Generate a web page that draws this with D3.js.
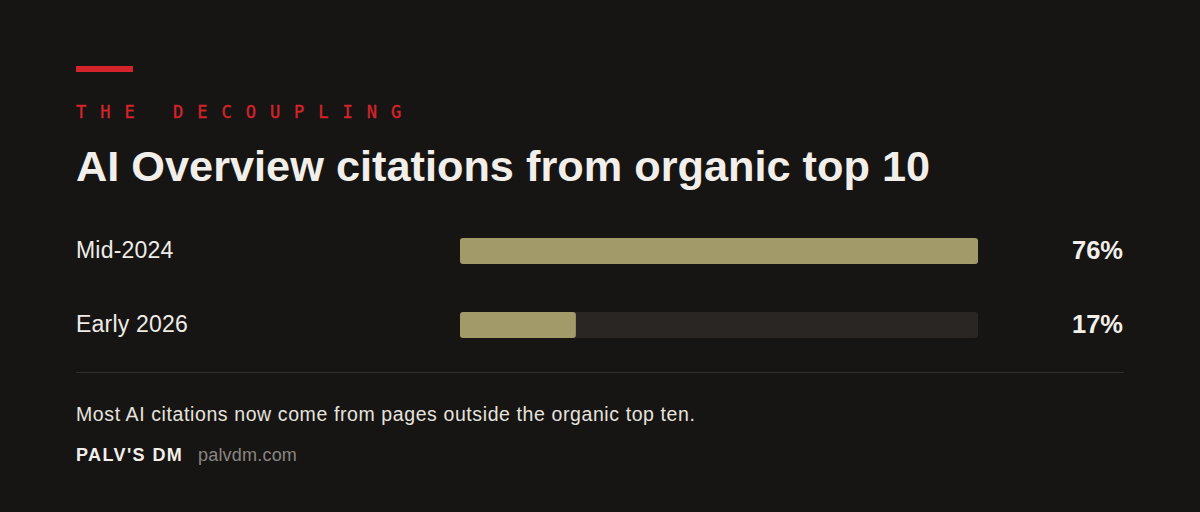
<!DOCTYPE html>
<html>
<head>
<meta charset="utf-8">
<script src="https://cdn.jsdelivr.net/npm/d3@7"></script>
<style>
  html, body { margin: 0; padding: 0; background: #171514; }
  svg { display: block; }
</style>
</head>
<body>
<div id="chart"></div>
<script>
// data
const periods = ["Mid-2024", "Early 2026"];
const shares = [76, 17];
const eyebrow = "THE DECOUPLING";
const title = "AI Overview citations from organic top 10";
const note = "Most AI citations now come from pages outside the organic top ten.";
const brand = "PALV'S DM";
const site = "palvdm.com";

const width = 1200, height = 512;
const sans = "'Liberation Sans', Arial, sans-serif";
const mono = "'DejaVu Sans Mono', monospace";

const svg = d3.select("#chart").append("svg")
    .attr("width", width)
    .attr("height", height);

svg.append("rect")
    .attr("width", width).attr("height", height)
    .attr("fill", "#171514");

// red accent
svg.append("rect")
    .attr("x", 76).attr("y", 66)
    .attr("width", 57).attr("height", 6)
    .attr("fill", "#d3242b");

svg.append("text")
    .attr("x", 76).attr("y", 118)
    .attr("font-family", mono)
    .attr("font-size", 17)
    .attr("letter-spacing", 14.0)
    .attr("stroke", "#d3242b")
    .attr("stroke-width", 0.4)
    .attr("fill", "#d3242b")
    .text(eyebrow);

svg.append("text")
    .attr("x", 76).attr("y", 181)
    .attr("font-family", sans)
    .attr("font-weight", 700)
    .attr("font-size", 43.3)
    .attr("fill", "#f2efea")
    .text(title);

// bars
const x = d3.scaleLinear()
    .domain([0, d3.max(shares)])
    .range([460, 978]);

const y = d3.scaleBand()
    .domain(periods)
    .range([214, 362])
    .paddingInner(0.65)
    .paddingOuter(0.325);

const rows = svg.selectAll("g.row")
    .data(periods)
    .enter()
    .append("g")
    .attr("class", "row");

rows.append("rect")
    .attr("x", x(0))
    .attr("y", d => y(d))
    .attr("width", x.range()[1] - x(0))
    .attr("height", y.bandwidth())
    .attr("rx", 3)
    .attr("fill", "#292624");

rows.append("rect")
    .attr("x", x(0))
    .attr("y", d => y(d))
    .attr("width", (d, i) => x(shares[i]) - x(0))
    .attr("height", y.bandwidth())
    .attr("rx", 3)
    .attr("fill", "#a39a69");

rows.append("text")
    .attr("x", 76)
    .attr("y", d => y(d) + y.bandwidth() / 2 + 7)
    .attr("font-family", sans)
    .attr("font-size", 23)
    .attr("letter-spacing", 0.2)
    .attr("fill", "#eeebe6")
    .text(d => d);

rows.append("text")
    .attr("x", 1123)
    .attr("y", d => y(d) + y.bandwidth() / 2 + 8)
    .attr("text-anchor", "end")
    .attr("font-family", sans)
    .attr("font-weight", 700)
    .attr("font-size", 25.5)
    .attr("fill", "#f2efea")
    .text((d, i) => shares[i] + "%");

// separator
svg.append("line")
    .attr("x1", 76).attr("x2", 1124)
    .attr("y1", 372.5).attr("y2", 372.5)
    .attr("stroke", "#302d2a")
    .attr("stroke-width", 1);

svg.append("text")
    .attr("x", 76).attr("y", 421)
    .attr("font-family", sans)
    .attr("font-size", 19.5)
    .attr("letter-spacing", 0.6)
    .attr("fill", "#e6e3de")
    .text(note);

const foot = svg.append("text")
    .attr("x", 76).attr("y", 461)
    .attr("font-family", sans)
    .attr("font-size", 18);

foot.append("tspan")
    .attr("font-weight", 700)
    .attr("letter-spacing", 1.4)
    .attr("fill", "#f2efea")
    .text(brand);

foot.append("tspan")
    .attr("x", 198)
    .attr("letter-spacing", 0.2)
    .attr("fill", "#8a8580")
    .text(site);
</script>
</body>
</html>
